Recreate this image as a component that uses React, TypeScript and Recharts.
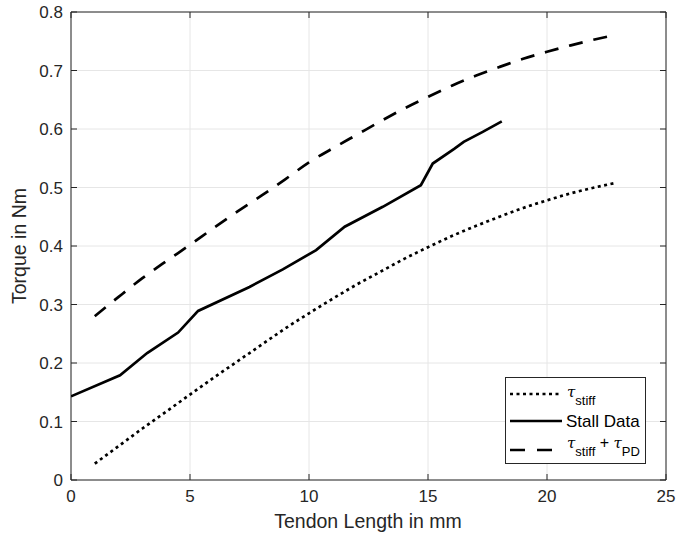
import React from "react"
import { LineChart, Line, XAxis, YAxis, CartesianGrid, ReferenceArea } from "recharts"

// tendon length (mm) / torque (Nm)
const stiffX = [1, 2, 3, 4, 5, 6, 7, 8, 9, 10, 11, 12, 13, 14, 15, 16, 17, 18, 19, 20, 21, 22, 22.9]
const stiffY = [0.028, 0.058, 0.088, 0.117, 0.146, 0.175, 0.203, 0.231, 0.259, 0.285, 0.31, 0.334, 0.356, 0.378, 0.398, 0.417, 0.434, 0.45, 0.465, 0.478, 0.49, 0.5, 0.508]

const stallX = [0, 2.06, 3.2, 4.5, 5.34, 7.5, 8.9, 10.3, 11.5, 13.1, 14.7, 15.2, 16.1, 16.5, 17.3, 18.1]
const stallY = [0.143, 0.179, 0.217, 0.252, 0.289, 0.33, 0.36, 0.393, 0.433, 0.467, 0.504, 0.541, 0.566, 0.578, 0.595, 0.613]

const pdX = [1, 2, 3, 4, 5, 6, 7, 8, 9, 10, 11, 12, 13, 14, 15, 16, 17, 18, 19, 20, 21, 22, 22.9]
const pdY = [0.28, 0.313, 0.345, 0.374, 0.402, 0.431, 0.459, 0.486, 0.514, 0.543, 0.567, 0.59, 0.613, 0.635, 0.655, 0.674, 0.691, 0.706, 0.72, 0.732, 0.743, 0.753, 0.761]

const xTicks = [0, 5, 10, 15, 20, 25]
const yTicks = [0, 0.1, 0.2, 0.3, 0.4, 0.5, 0.6, 0.7, 0.8]

const zip = (xs: number[], ys: number[]) => xs.map((x, i) => ({ x, y: ys[i] }))
const stiffData = zip(stiffX, stiffY)
const stallData = zip(stallX, stallY)
const pdData = zip(pdX, pdY)

const FONT = "'Liberation Sans', Arial, Helvetica, sans-serif"
const AX = "#262626"
const TOP = 12
const BOTTOM = 480
const LEFT = 71
const RIGHT = 666

const XTick = (props: any) => {
  const { x, payload } = props
  return (
    <g>
      <line x1={x} x2={x} y1={BOTTOM} y2={BOTTOM - 6} stroke={AX} />
      <line x1={x} x2={x} y1={TOP} y2={TOP + 6} stroke={AX} />
      <text x={x} y={502} textAnchor="middle" fontSize={17} fontFamily={FONT} fill={AX}>
        {payload.value}
      </text>
    </g>
  )
}

const YTick = (props: any) => {
  const { y, payload } = props
  const v = payload.value
  return (
    <g>
      <line x1={LEFT} x2={LEFT + 6} y1={y} y2={y} stroke={AX} />
      <line x1={RIGHT} x2={RIGHT - 6} y1={y} y2={y} stroke={AX} />
      <text x={63} y={y + 6} textAnchor="end" fontSize={17} fontFamily={FONT} fill={AX}>
        {v === 0 ? "0" : v.toFixed(1)}
      </text>
    </g>
  )
}

const Tau = () => (
  <tspan fontFamily="'DejaVu Serif', serif" fontStyle="italic" fontSize={15}>τ</tspan>
)

const LegendBox = () => (
  <svg width={141} height={87} style={{ display: "block" }}>
    <rect x={0.5} y={0.5} width={140} height={86} fill="#fff" stroke={AX} />
    <line x1={5} x2={57} y1={17} y2={17} stroke="#000" strokeWidth={2.7} strokeDasharray="3 3.5" />
    <line x1={5} x2={57} y1={44} y2={44} stroke="#000" strokeWidth={2.7} />
    <line x1={5} x2={57} y1={73} y2={73} stroke="#000" strokeWidth={2.7} strokeDasharray="15 12" />
    <text x={62} y={20} fontFamily={FONT} fontSize={16} fill="#000">
      <Tau />
      <tspan fontSize={13} dy={8}>stiff</tspan>
    </text>
    <text x={61} y={50} fontFamily={FONT} fontSize={17} fill="#000">Stall Data</text>
    <text x={62} y={71} fontFamily={FONT} fontSize={16} fill="#000">
      <Tau />
      <tspan fontSize={13} dy={8}>stiff</tspan>
      <tspan dy={-8}> + </tspan>
      <Tau />
      <tspan fontSize={13} dy={8}>PD</tspan>
    </text>
  </svg>
)

export default function App() {
  return (
    <div style={{ position: "absolute", left: 0, top: 0, width: 676, height: 540, background: "#fff" }}>
      <LineChart width={676} height={540} margin={{ top: TOP, right: 10, bottom: 0, left: 0 }}>
        <CartesianGrid stroke="#e6e6e6" strokeWidth={1} />
        <XAxis
          dataKey="x"
          type="number"
          domain={[0, 25]}
          ticks={xTicks}
          height={60}
          axisLine={false}
          tickLine={false}
          tick={XTick}
          allowDataOverflow
          label={{
            content: () => (
              <text x={368} y={528} textAnchor="middle" fontSize={19.5} fontFamily={FONT} fill={AX}>
                Tendon Length in mm
              </text>
            ),
          }}
        />
        <YAxis
          type="number"
          domain={[0, 0.8]}
          ticks={yTicks}
          width={71}
          axisLine={false}
          tickLine={false}
          tick={YTick}
          allowDataOverflow
          label={{
            content: () => (
              <text
                x={26}
                y={246}
                transform="rotate(-90 26 246)"
                textAnchor="middle"
                fontSize={19.5}
                fontFamily={FONT}
                fill={AX}
              >
                Torque in Nm
              </text>
            ),
          }}
        />
        <ReferenceArea x1={0} x2={25} y1={0} y2={0.8} fill="none" stroke={AX} strokeWidth={1} ifOverflow="visible" />
        <Line data={stiffData} dataKey="y" type="monotone" stroke="#000" strokeWidth={2.7} strokeDasharray="3 3.5" dot={false} isAnimationActive={false} />
        <Line data={stallData} dataKey="y" type="linear" stroke="#000" strokeWidth={2.7} dot={false} isAnimationActive={false} />
        <Line data={pdData} dataKey="y" type="monotone" stroke="#000" strokeWidth={2.7} strokeDasharray="14 11" dot={false} isAnimationActive={false} />
      </LineChart>
      <div style={{ position: "absolute", left: 505, top: 377 }}>
        <LegendBox />
      </div>
    </div>
  )
}
